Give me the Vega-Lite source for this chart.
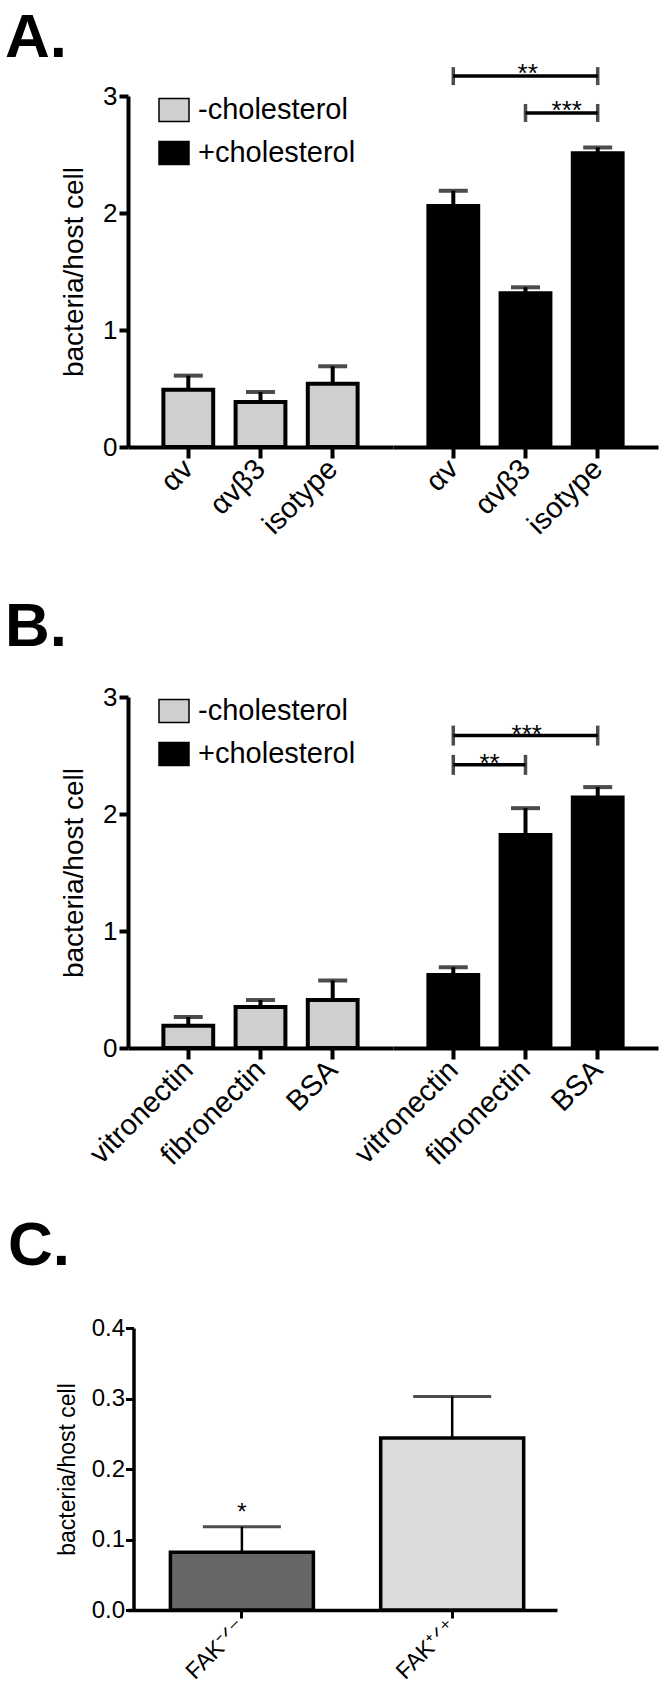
{
  "$schema": "https://vega.github.io/schema/vega-lite/v6.json",
  "background": "white",
  "padding": {"left": 5, "top": 7, "right": 5, "bottom": 4},
  "config": {
    "font": "Liberation Sans",
    "view": {"stroke": null},
    "axis": {"grid": false, "domainColor": "black", "tickColor": "black", "labelColor": "black", "titleColor": "black", "titleFontWeight": "normal", "labelFont": "Liberation Sans", "titleFont": "Liberation Sans", "labelOverlap": false},
    "axisX": {"labelAngle": -45, "labelFontSize": 29, "labelAlign": "right", "labelBaseline": "middle", "labelPadding": 6, "tickSize": 11, "tickWidth": 4, "domainWidth": 4},
    "axisY": {"labelFontSize": 26, "titleFontSize": 28, "tickSize": 9, "tickWidth": 4, "domainWidth": 4, "labelPadding": 2, "titlePadding": 14, "labelFlush": false},
    "scale": {"bandPaddingInner": 0.31, "bandPaddingOuter": 0.49},
    "title": {"font": "Liberation Sans", "fontWeight": "bold", "fontSize": 62, "color": "black", "anchor": "start", "frame": "group", "baseline": "alphabetic"},
    "legend": {"labelFont": "Liberation Sans", "labelColor": "black"},
    "tick": {"color": "black"},
    "rule": {"color": "black"},
    "text": {"color": "black"}
  },
  "datasets": {
    "A": [
      {"cond": "-cholesterol", "item": "αv", "value": 0.49, "upper": 0.61},
      {"cond": "-cholesterol", "item": "αvβ3", "value": 0.385, "upper": 0.47},
      {"cond": "-cholesterol", "item": "isotype", "value": 0.54, "upper": 0.69},
      {"cond": "+cholesterol", "item": "αv", "value": 2.06, "upper": 2.19},
      {"cond": "+cholesterol", "item": "αvβ3", "value": 1.315, "upper": 1.365},
      {"cond": "+cholesterol", "item": "isotype", "value": 2.51, "upper": 2.56}
    ],
    "Asig": [
      {"x1": "αv", "x2": "isotype", "y": 3.17, "label": "**"},
      {"x1": "αvβ3", "x2": "isotype", "y": 2.855, "label": "***"}
    ],
    "B": [
      {"cond": "-cholesterol", "item": "vitronectin", "value": 0.19, "upper": 0.265},
      {"cond": "-cholesterol", "item": "fibronectin", "value": 0.35, "upper": 0.41},
      {"cond": "-cholesterol", "item": "BSA", "value": 0.41, "upper": 0.577},
      {"cond": "+cholesterol", "item": "vitronectin", "value": 0.625, "upper": 0.69},
      {"cond": "+cholesterol", "item": "fibronectin", "value": 1.82, "upper": 2.05},
      {"cond": "+cholesterol", "item": "BSA", "value": 2.14, "upper": 2.23}
    ],
    "Bsig": [
      {"x1": "vitronectin", "x2": "BSA", "y": 2.67, "label": "***"},
      {"x1": "vitronectin", "x2": "fibronectin", "y": 2.42, "label": "**"}
    ],
    "C": [
      {"genotype": "FAK⁻ᐟ⁻", "value": 0.082, "upper": 0.118, "sig": "*"},
      {"genotype": "FAK⁺ᐟ⁺", "value": 0.244, "upper": 0.303, "sig": ""}
    ]
  },
  "resolve": {"scale": {"color": "independent"}, "legend": {"color": "independent"}},
  "spacing": 55,
  "vconcat": [
    {
      "title": {"text": "A.", "dx": -123, "offset": -9},
      "spacing": 0,
      "bounds": "flush",
      "resolve": {"legend": {"color": "independent"}},
      "hconcat": [
        {
          "width": 265, "height": 351,
          "data": {"name": "A"},
          "transform": [{"filter": "datum.cond === '-cholesterol'"}],
          "layer": [
            {"mark": {"type": "bar", "stroke": "black", "strokeWidth": 4},
             "encoding": {
               "x": {"field": "item", "type": "nominal", "title": null, "scale": {"domain": ["αv", "αvβ3", "isotype"]}},
               "y": {"field": "value", "type": "quantitative", "title": "bacteria/host cell", "scale": {"domain": [0, 3], "nice": false}, "axis": {"values": [0, 1, 2, 3]}},
               "color": {"field": "cond", "type": "nominal", "scale": {"domain": ["-cholesterol", "+cholesterol"], "range": ["#cfcfcf", "#000000"]},
                 "legend": {"orient": "none", "legendX": 30, "legendY": -2, "title": null, "labelFontSize": 29, "symbolType": "M-1,-0.77H1V0.77H-1Z", "symbolSize": 900, "labelOffset": 8, "rowPadding": 12, "padding": 0,
                   "encode": {"symbols": {"update": {"stroke": {"value": "black"}, "strokeWidth": {"value": 5}}}}}}
             }},
            {"mark": {"type": "rule", "strokeWidth": 4},
             "encoding": {
               "x": {"field": "item", "type": "nominal", "title": null, "scale": {"domain": ["αv", "αvβ3", "isotype"]}},
               "y": {"field": "value", "type": "quantitative", "title": "bacteria/host cell", "scale": {"domain": [0, 3], "nice": false}, "axis": {"values": [0, 1, 2, 3]}},
               "y2": {"field": "upper"}
             }},
            {"mark": {"type": "tick", "orient": "horizontal", "thickness": 4, "size": 29},
             "encoding": {
               "x": {"field": "item", "type": "nominal", "title": null, "scale": {"domain": ["αv", "αvβ3", "isotype"]}},
               "y": {"field": "upper", "type": "quantitative", "title": "bacteria/host cell", "scale": {"domain": [0, 3], "nice": false}, "axis": {"values": [0, 1, 2, 3]}}
             }}
          ]
        },
        {
          "width": 265, "height": 351,
          "layer": [
            {
              "data": {"name": "A"},
              "transform": [{"filter": "datum.cond === '+cholesterol'"}],
              "layer": [
                {"mark": {"type": "bar", "stroke": "black", "strokeWidth": 4},
                 "encoding": {
                   "x": {"field": "item", "type": "nominal", "title": null, "scale": {"domain": ["αv", "αvβ3", "isotype"]}},
                   "y": {"field": "value", "type": "quantitative", "scale": {"domain": [0, 3], "nice": false}, "axis": null},
                   "color": {"field": "cond", "type": "nominal", "scale": {"domain": ["-cholesterol", "+cholesterol"], "range": ["#cfcfcf", "#000000"]}, "legend": null}
                 }},
                {"mark": {"type": "rule", "strokeWidth": 4},
                 "encoding": {
                   "x": {"field": "item", "type": "nominal", "title": null, "scale": {"domain": ["αv", "αvβ3", "isotype"]}},
                   "y": {"field": "value", "type": "quantitative", "scale": {"domain": [0, 3], "nice": false}, "axis": null},
                   "y2": {"field": "upper"}
                 }},
                {"mark": {"type": "tick", "orient": "horizontal", "thickness": 4, "size": 29},
                 "encoding": {
                   "x": {"field": "item", "type": "nominal", "title": null, "scale": {"domain": ["αv", "αvβ3", "isotype"]}},
                   "y": {"field": "upper", "type": "quantitative", "scale": {"domain": [0, 3], "nice": false}, "axis": null}
                 }}
              ]
            },
            {
              "data": {"name": "Asig"},
              "layer": [
                {"mark": {"type": "rule", "strokeWidth": 3.5},
                 "encoding": {
                   "x": {"field": "x1", "type": "nominal", "title": null, "scale": {"domain": ["αv", "αvβ3", "isotype"]}},
                   "x2": {"field": "x2"},
                   "y": {"field": "y", "type": "quantitative", "scale": {"domain": [0, 3], "nice": false}, "axis": null}
                 }},
                {"mark": {"type": "tick", "orient": "vertical", "thickness": 3.5, "size": 18},
                 "encoding": {
                   "x": {"field": "x1", "type": "nominal", "title": null, "scale": {"domain": ["αv", "αvβ3", "isotype"]}},
                   "y": {"field": "y", "type": "quantitative", "scale": {"domain": [0, 3], "nice": false}, "axis": null}
                 }},
                {"mark": {"type": "tick", "orient": "vertical", "thickness": 3.5, "size": 18},
                 "encoding": {
                   "x": {"field": "x2", "type": "nominal", "title": null, "scale": {"domain": ["αv", "αvβ3", "isotype"]}},
                   "y": {"field": "y", "type": "quantitative", "scale": {"domain": [0, 3], "nice": false}, "axis": null}
                 }},
                {"transform": [{"filter": "datum.label === '**'"}],
                 "mark": {"type": "text", "fontSize": 26, "baseline": "alphabetic", "align": "center", "dy": 6, "dx": -70},
                 "encoding": {
                   "x": {"field": "x2", "type": "nominal", "title": null, "scale": {"domain": ["αv", "αvβ3", "isotype"]}},
                   "y": {"field": "y", "type": "quantitative", "scale": {"domain": [0, 3], "nice": false}, "axis": null},
                   "text": {"field": "label"}
                 }},
                {"transform": [{"filter": "datum.label === '***'"}],
                 "mark": {"type": "text", "fontSize": 26, "baseline": "alphabetic", "align": "center", "dy": 6, "dx": -31},
                 "encoding": {
                   "x": {"field": "x2", "type": "nominal", "title": null, "scale": {"domain": ["αv", "αvβ3", "isotype"]}},
                   "y": {"field": "y", "type": "quantitative", "scale": {"domain": [0, 3], "nice": false}, "axis": null},
                   "text": {"field": "label"}
                 }}
              ]
            }
          ]
        }
      ]
    },
    {
      "spacing": 44,
      "resolve": {"scale": {"color": "independent"}, "legend": {"color": "independent"}},
      "vconcat": [
        {
          "title": {"text": "B.", "dx": -123, "offset": 25.5},
          "spacing": 0,
          "bounds": "flush",
          "resolve": {"legend": {"color": "independent"}},
          "hconcat": [
            {
              "width": 265, "height": 351,
              "data": {"name": "B"},
              "transform": [{"filter": "datum.cond === '-cholesterol'"}],
              "layer": [
                {"mark": {"type": "bar", "stroke": "black", "strokeWidth": 4},
                 "encoding": {
                   "x": {"field": "item", "type": "nominal", "title": null, "scale": {"domain": ["vitronectin", "fibronectin", "BSA"]}},
                   "y": {"field": "value", "type": "quantitative", "title": "bacteria/host cell", "scale": {"domain": [0, 3], "nice": false}, "axis": {"values": [0, 1, 2, 3]}},
                   "color": {"field": "cond", "type": "nominal", "scale": {"domain": ["-cholesterol", "+cholesterol"], "range": ["#cfcfcf", "#000000"]},
                     "legend": {"orient": "none", "legendX": 30, "legendY": -2, "title": null, "labelFontSize": 29, "symbolType": "M-1,-0.77H1V0.77H-1Z", "symbolSize": 900, "labelOffset": 8, "rowPadding": 12, "padding": 0,
                       "encode": {"symbols": {"update": {"stroke": {"value": "black"}, "strokeWidth": {"value": 5}}}}}}
                 }},
                {"mark": {"type": "rule", "strokeWidth": 4},
                 "encoding": {
                   "x": {"field": "item", "type": "nominal", "title": null, "scale": {"domain": ["vitronectin", "fibronectin", "BSA"]}},
                   "y": {"field": "value", "type": "quantitative", "title": "bacteria/host cell", "scale": {"domain": [0, 3], "nice": false}, "axis": {"values": [0, 1, 2, 3]}},
                   "y2": {"field": "upper"}
                 }},
                {"mark": {"type": "tick", "orient": "horizontal", "thickness": 4, "size": 29},
                 "encoding": {
                   "x": {"field": "item", "type": "nominal", "title": null, "scale": {"domain": ["vitronectin", "fibronectin", "BSA"]}},
                   "y": {"field": "upper", "type": "quantitative", "title": "bacteria/host cell", "scale": {"domain": [0, 3], "nice": false}, "axis": {"values": [0, 1, 2, 3]}}
                 }}
              ]
            },
            {
              "width": 265, "height": 351,
              "layer": [
                {
                  "data": {"name": "B"},
                  "transform": [{"filter": "datum.cond === '+cholesterol'"}],
                  "layer": [
                    {"mark": {"type": "bar", "stroke": "black", "strokeWidth": 4},
                     "encoding": {
                       "x": {"field": "item", "type": "nominal", "title": null, "scale": {"domain": ["vitronectin", "fibronectin", "BSA"]}},
                       "y": {"field": "value", "type": "quantitative", "scale": {"domain": [0, 3], "nice": false}, "axis": null},
                       "color": {"field": "cond", "type": "nominal", "scale": {"domain": ["-cholesterol", "+cholesterol"], "range": ["#cfcfcf", "#000000"]}, "legend": null}
                     }},
                    {"mark": {"type": "rule", "strokeWidth": 4},
                     "encoding": {
                       "x": {"field": "item", "type": "nominal", "title": null, "scale": {"domain": ["vitronectin", "fibronectin", "BSA"]}},
                       "y": {"field": "value", "type": "quantitative", "scale": {"domain": [0, 3], "nice": false}, "axis": null},
                       "y2": {"field": "upper"}
                     }},
                    {"mark": {"type": "tick", "orient": "horizontal", "thickness": 4, "size": 29},
                     "encoding": {
                       "x": {"field": "item", "type": "nominal", "title": null, "scale": {"domain": ["vitronectin", "fibronectin", "BSA"]}},
                       "y": {"field": "upper", "type": "quantitative", "scale": {"domain": [0, 3], "nice": false}, "axis": null}
                     }}
                  ]
                },
                {
                  "data": {"name": "Bsig"},
                  "layer": [
                    {"mark": {"type": "rule", "strokeWidth": 3.5},
                     "encoding": {
                       "x": {"field": "x1", "type": "nominal", "title": null, "scale": {"domain": ["vitronectin", "fibronectin", "BSA"]}},
                       "x2": {"field": "x2"},
                       "y": {"field": "y", "type": "quantitative", "scale": {"domain": [0, 3], "nice": false}, "axis": null}
                     }},
                    {"mark": {"type": "tick", "orient": "vertical", "thickness": 3.5, "size": 20},
                     "encoding": {
                       "x": {"field": "x1", "type": "nominal", "title": null, "scale": {"domain": ["vitronectin", "fibronectin", "BSA"]}},
                       "y": {"field": "y", "type": "quantitative", "scale": {"domain": [0, 3], "nice": false}, "axis": null}
                     }},
                    {"mark": {"type": "tick", "orient": "vertical", "thickness": 3.5, "size": 20},
                     "encoding": {
                       "x": {"field": "x2", "type": "nominal", "title": null, "scale": {"domain": ["vitronectin", "fibronectin", "BSA"]}},
                       "y": {"field": "y", "type": "quantitative", "scale": {"domain": [0, 3], "nice": false}, "axis": null}
                     }},
                    {"transform": [{"filter": "datum.label === '***'"}],
                     "mark": {"type": "text", "fontSize": 26, "baseline": "alphabetic", "align": "center", "dy": 7, "dx": -71},
                     "encoding": {
                       "x": {"field": "x2", "type": "nominal", "title": null, "scale": {"domain": ["vitronectin", "fibronectin", "BSA"]}},
                       "y": {"field": "y", "type": "quantitative", "scale": {"domain": [0, 3], "nice": false}, "axis": null},
                       "text": {"field": "label"}
                     }},
                    {"transform": [{"filter": "datum.label === '**'"}],
                     "mark": {"type": "text", "fontSize": 26, "baseline": "alphabetic", "align": "center", "dy": 7, "dx": -36},
                     "encoding": {
                       "x": {"field": "x2", "type": "nominal", "title": null, "scale": {"domain": ["vitronectin", "fibronectin", "BSA"]}},
                       "y": {"field": "y", "type": "quantitative", "scale": {"domain": [0, 3], "nice": false}, "axis": null},
                       "text": {"field": "label"}
                     }}
                  ]
                }
              ]
            }
          ]
        },
        {
          "title": {"text": "C.", "dx": -120, "offset": 38},
          "width": 429, "height": 282,
          "data": {"name": "C"},
          "encoding": {
            "x": {"field": "genotype", "type": "nominal", "title": null, "sort": null,
              "scale": {"paddingInner": 0.32, "paddingOuter": 0.18, "align": 0.56},
              "axis": {"labelFontSize": 23, "tickSize": 8, "tickWidth": 3, "domainWidth": 3.5, "labelPadding": 5}}
          },
          "layer": [
            {"mark": {"type": "bar", "stroke": "black", "strokeWidth": 3.5},
             "encoding": {
               "y": {"field": "value", "type": "quantitative", "title": "bacteria/host cell", "scale": {"domain": [0, 0.4], "nice": false},
                 "axis": {"values": [0, 0.1, 0.2, 0.3, 0.4], "format": ".1f", "offset": -5.5, "labelFontSize": 24, "titleFontSize": 23, "tickSize": 8, "tickWidth": 3, "domainWidth": 3.5, "labelPadding": 1, "titlePadding": 12}},
               "color": {"field": "genotype", "type": "nominal", "sort": null, "scale": {"range": ["#666666", "#dcdcdc"]}, "legend": null}
             }},
            {"mark": {"type": "rule", "strokeWidth": 2.5},
             "encoding": {"y": {"field": "value", "type": "quantitative"}, "y2": {"field": "upper"}}},
            {"mark": {"type": "tick", "orient": "horizontal", "thickness": 3, "size": 78},
             "encoding": {"y": {"field": "upper", "type": "quantitative"}}},
            {"mark": {"type": "text", "fontSize": 24, "baseline": "alphabetic", "align": "center", "dy": -7},
             "encoding": {"y": {"field": "upper", "type": "quantitative"}, "text": {"field": "sig"}}}
          ]
        }
      ]
    }
  ]
}
